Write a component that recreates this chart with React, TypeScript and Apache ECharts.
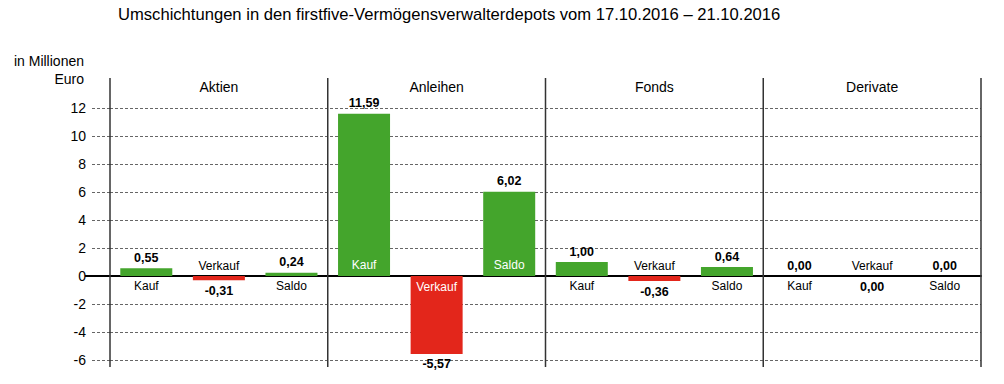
import React, { useEffect, useRef } from "react";
import * as echarts from "echarts";

const TITLE = "Umschichtungen in den firstfive-Vermögensverwalterdepots vom 17.10.2016 – 21.10.2016";
const GROUPS = ["Aktien", "Anleihen", "Fonds", "Derivate"];
const KINDS = ["Kauf", "Verkauf", "Saldo"];
const KAUF = [0.55, 11.59, 1.0, 0.0];
const VERKAUF = [-0.31, -5.57, -0.36, 0.0];
const SALDO = [0.24, 6.02, 0.64, 0.0];
const Y_MIN = -6;
const Y_MAX = 12;
const Y_INTERVAL = 2;

const GREEN = "#44a52c";
const RED = "#e3261b";
const FONT = "'Liberation Sans', Arial, sans-serif";

const W = 1004;
const H = 384;
const GRID_LEFT = 110;
const GRID_RIGHT_X = 981;
const GRID_TOP = 108;
const GRID_BOTTOM_Y = 360;

const fmt = (v: number) => v.toFixed(2).replace(".", ",");

export default function App() {
  const ref = useRef<HTMLDivElement>(null);
  useEffect(() => {
    document.body.style.margin = "0";
    if (!ref.current) return;
    const chart = echarts.init(ref.current, null, { renderer: "svg" });

    const values = GROUPS.flatMap((_, i) => [KAUF[i], VERKAUF[i], SALDO[i]]);
    const kinds = GROUPS.flatMap(() => KINDS);
    const cats = GROUPS.flatMap((g) => KINDS.map((k) => g + " " + k));

    const valueData = values.map((v, k) => {
      const sell = kinds[k] === "Verkauf";
      return {
        value: v,
        itemStyle: { color: sell ? RED : GREEN },
        label: {
          show: true,
          position: sell ? "bottom" : "top",
          distance: 4,
          formatter: fmt(v),
          fontWeight: "bold",
          fontSize: 12.5,
          color: "#000",
          fontFamily: FONT,
        },
      };
    });

    const nameData = values.map((v, k) => {
      const sell = kinds[k] === "Verkauf";
      const big = Math.abs(v) >= 3;
      return {
        value: v,
        itemStyle: { color: "rgba(0,0,0,0)" },
        label: {
          show: true,
          position: big ? (sell ? "insideTop" : "insideBottom") : sell ? "top" : "bottom",
          distance: big ? 5 : 4,
          formatter: kinds[k],
          fontSize: 12,
          color: big ? "#fff" : "#000",
          fontFamily: FONT,
        },
      };
    });

    chart.setOption({
      animation: false,
      textStyle: { fontFamily: FONT },
      grid: {
        left: GRID_LEFT,
        right: W - GRID_RIGHT_X,
        top: GRID_TOP,
        bottom: H - GRID_BOTTOM_Y,
        containLabel: false,
      },
      xAxis: [
        {
          type: "category",
          data: cats,
          axisLine: { onZero: true, lineStyle: { color: "#000", width: 2 } },
          axisTick: { show: false },
          axisLabel: { show: false },
          splitLine: { show: false },
        },
        {
          type: "category",
          position: "top",
          data: GROUPS,
          axisLine: { show: false },
          axisTick: { show: false },
          axisLabel: { show: true, fontSize: 14, color: "#000", margin: 14, fontFamily: FONT },
          splitLine: { show: false },
        },
      ],
      yAxis: {
        type: "value",
        min: Y_MIN,
        max: Y_MAX,
        interval: Y_INTERVAL,
        axisLine: { show: false },
        axisTick: { show: true, length: 20, lineStyle: { color: "#666", type: [3, 2], width: 1 } },
        axisLabel: { fontSize: 14, color: "#000", margin: 24, fontFamily: FONT },
        splitLine: { show: true, lineStyle: { color: "#666", type: [3, 2], width: 1 } },
      },
      series: [
        {
          type: "bar",
          data: valueData,
          barWidth: 52,
          barGap: "-100%",
          silent: true,
        },
        {
          type: "bar",
          data: nameData,
          barWidth: 52,
          barGap: "-100%",
          silent: true,
        },
      ],
    });

    const zeroY = chart.convertToPixel({ yAxisIndex: 0 }, 0) as number;
    const groupW = (GRID_RIGHT_X - GRID_LEFT) / GROUPS.length;
    const seps = [];
    for (let i = 0; i <= GROUPS.length; i++) {
      const x = GRID_LEFT + i * groupW;
      seps.push({
        type: "line",
        shape: { x1: x, y1: 78, x2: x, y2: 367 },
        style: { stroke: "#333", lineWidth: 1.5 },
        z: 10,
      });
    }
    chart.setOption({
      graphic: [
        {
          type: "text",
          left: 118,
          top: 6,
          style: { text: TITLE, fontSize: 16.6, fill: "#000", fontFamily: FONT },
        },
        {
          type: "text",
          x: 84,
          y: 52,
          style: {
            text: "in Millionen\nEuro",
            fontSize: 14,
            lineHeight: 18,
            fill: "#000",
            align: "right",
            fontFamily: FONT,
          },
        },
        {
          type: "line",
          shape: { x1: 85, y1: zeroY, x2: GRID_LEFT, y2: zeroY },
          style: { stroke: "#000", lineWidth: 2 },
          z: 10,
        },
        ...seps,
      ],
    });

    return () => chart.dispose();
  }, []);
  return <div ref={ref} style={{ width: W, height: H }} />;
}
